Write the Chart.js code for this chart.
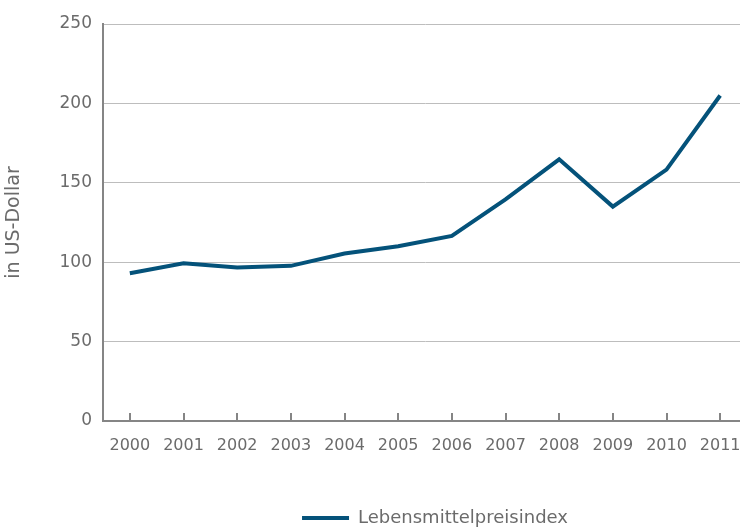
<!DOCTYPE html>
<html>
<head>
<meta charset="utf-8">
<script src="https://cdn.jsdelivr.net/npm/chart.js@4"></script>
<style>
  html, body { margin: 0; padding: 0; background: #ffffff; overflow: hidden; }
  #wrap { width: 740px; height: 527px; position: relative; overflow: hidden; }
  #c { display: block; }
</style>
</head>
<body>
<div id="wrap"><canvas id="c" width="747" height="527"></canvas></div>
<script>
const categories = ['2000','2001','2002','2003','2004','2005','2006','2007','2008','2009','2010','2011'];
const seriesName = 'Lebensmittelpreisindex';
const seriesValues = [93.0, 99.3, 96.6, 97.7, 105.5, 110.0, 116.6, 139.5, 164.8, 135.0, 158.3, 205.0];
const yTicks = [0, 50, 100, 150, 200, 250];
const yTitle = 'in US-Dollar';

const textColor = '#6b6b6b';
const axisColor = '#858585';
const lineColor = '#04527a';
const fontFamily = '"DejaVu Sans", Verdana, sans-serif';

const innerTicks = {
  id: 'innerTicks',
  afterDatasetsDraw(chart) {
    const xs = chart.scales.x;
    const ctx = chart.ctx;
    ctx.save();
    ctx.strokeStyle = axisColor;
    ctx.lineWidth = 2;
    ctx.beginPath();
    for (let i = 0; i < xs.ticks.length; i++) {
      const px = Math.round(xs.getPixelForTick(i));
      ctx.moveTo(px, xs.top);
      ctx.lineTo(px, xs.top - 8);
    }
    ctx.stroke();
    ctx.restore();
  }
};

const legendShift = {
  id: 'legendShift',
  afterLayout(chart) {
    const l = chart.legend;
    if (l) { l.left += 10; l.right += 10; l.top += 10; l.bottom += 10; }
  }
};

new Chart(document.getElementById('c'), {
  type: 'line',
  data: {
    labels: categories,
    datasets: [{
      label: seriesName,
      data: seriesValues,
      borderColor: lineColor,
      backgroundColor: lineColor,
      borderWidth: 4,
      pointRadius: 0,
      pointHoverRadius: 0,
      tension: 0,
      fill: false
    }]
  },
  options: {
    responsive: false,
    animation: false,
    devicePixelRatio: 1,
    layout: { padding: { top: 24, right: 0, bottom: 0, left: 0 } },
    plugins: {
      tooltip: { enabled: false },
      legend: {
        position: 'bottom',
        align: 'center',
        fullSize: false,
        labels: {
          usePointStyle: true,
          pointStyle: 'line',
          pointStyleWidth: 47,
          padding: 0,
          color: textColor,
          font: { family: fontFamily, size: 18 }
        }
      }
    },
    scales: {
      x: {
        type: 'category',
        offset: true,
        grid: { display: true, drawOnChartArea: false, drawTicks: false },
        border: { display: true, color: axisColor, width: 2 },
        ticks: {
          color: textColor,
          padding: 15,
          maxRotation: 0,
          autoSkip: false,
          font: { family: fontFamily, size: 16 }
        },
        afterFit(scale) { scale.height = 78; scale.paddingLeft = 0; scale.paddingRight = 0; }
      },
      y: {
        min: 0,
        max: 250,
        afterBuildTicks(scale) { scale.ticks = yTicks.map(v => ({ value: v })); },
        grid: { color: '#bdbdbd', lineWidth: 1, drawTicks: false },
        border: { display: true, color: axisColor, width: 2 },
        ticks: {
          color: textColor,
          padding: 11,
          font: { family: fontFamily, size: 17 }
        },
        title: {
          display: true,
          text: yTitle,
          color: textColor,
          padding: { top: 3, bottom: 0 },
          font: { family: fontFamily, size: 19 }
        },
        afterFit(scale) { scale.width = 103; }
      }
    }
  },
  plugins: [innerTicks, legendShift]
});
</script>
</body>
</html>
